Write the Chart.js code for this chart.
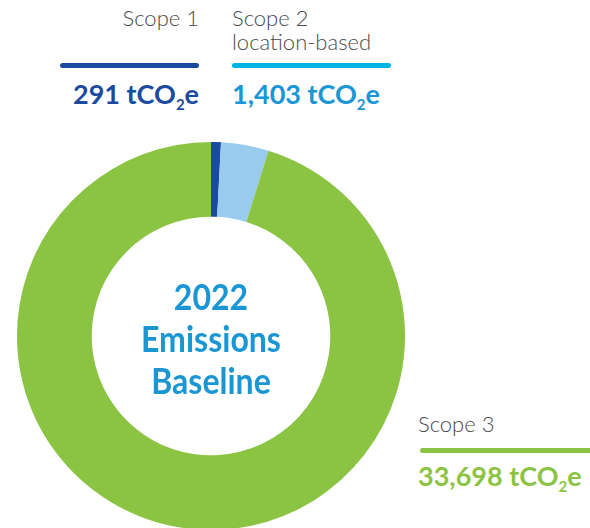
<!DOCTYPE html>
<html>
<head>
<meta charset="utf-8">
<script src="https://cdn.jsdelivr.net/npm/chart.js@4.4.1/dist/chart.umd.min.js"></script>
<style>
  html, body { margin: 0; padding: 0; background: #fff; width: 590px; height: 528px; overflow: hidden; }
  body { position: relative; font-family: Lato, "Open Sans", sans-serif; }
  #wrap { position: absolute; left: 17px; top: 142px; width: 388px; height: 388px; }
  .lbl { position: absolute; font-size: 22px; font-weight: 300; color: #4a4a4c; line-height: 24px; white-space: nowrap; }
  .val { position: absolute; font-size: 27px; font-weight: 700; line-height: 30px; white-space: nowrap; }
  .val sub { font-size: 15px; vertical-align: -6px; line-height: 0; }
  .bar { position: absolute; height: 5px; border-radius: 3px; }
  #centre { position: absolute; left: 111px; top: 275px; width: 200px; text-align: center;
            color: #1a96d4; font-weight: 700; font-size: 36px; line-height: 42px;
            transform: scaleX(0.89); transform-origin: center; }
</style>
</head>
<body>
<div id="wrap"><canvas id="donut" width="388" height="388"></canvas></div>

<div class="lbl" style="right:391px; top:6px;">Scope 1</div>
<div class="bar" style="left:60px; width:139px; top:63px; background:#1a4ba0;"></div>
<div class="val" style="right:391px; top:79px; color:#1a4ba0;">291 tCO<sub>2</sub>e</div>

<div class="lbl" style="left:232px; top:6px;">Scope 2<br>location-based</div>
<div class="bar" style="left:232px; width:159px; top:63px; background:#00b4e6;"></div>
<div class="val" style="left:232px; top:79px; color:#1a96d4;">1,403 tCO<sub>2</sub>e</div>

<div class="lbl" style="left:418px; top:412px;">Scope 3</div>
<div class="bar" style="left:420px; width:175px; top:448px; background:#8bc443;"></div>
<div class="val" style="left:418px; top:461px; color:#8bc443;">33,698 tCO<sub>2</sub>e</div>

<div id="centre">2022<br>Emissions<br>Baseline</div>

<script>
// tCO2e by scope, 2022 baseline
const scopes = ['Scope 1', 'Scope 2 location-based', 'Scope 3'];
const emissions = [291, 1403, 33698];
const sliceColors = ['#1a4ba0', '#99cbee', '#8bc443'];

document.addEventListener('DOMContentLoaded', () => {
    const ctx = document.getElementById('donut');

    new Chart(ctx, {
        type: 'doughnut',
        data: {
            labels: scopes,
            datasets: [{
                data: emissions,
                backgroundColor: sliceColors,
                borderWidth: 0,
                hoverOffset: 0
            }]
        },
        options: {
            responsive: false,
            animation: false,
            cutout: '61.5%',
            layout: { padding: 0 },
            plugins: {
                legend: { display: false },
                tooltip: { enabled: false }
            }
        }
    });
});
</script>
</body>
</html>
